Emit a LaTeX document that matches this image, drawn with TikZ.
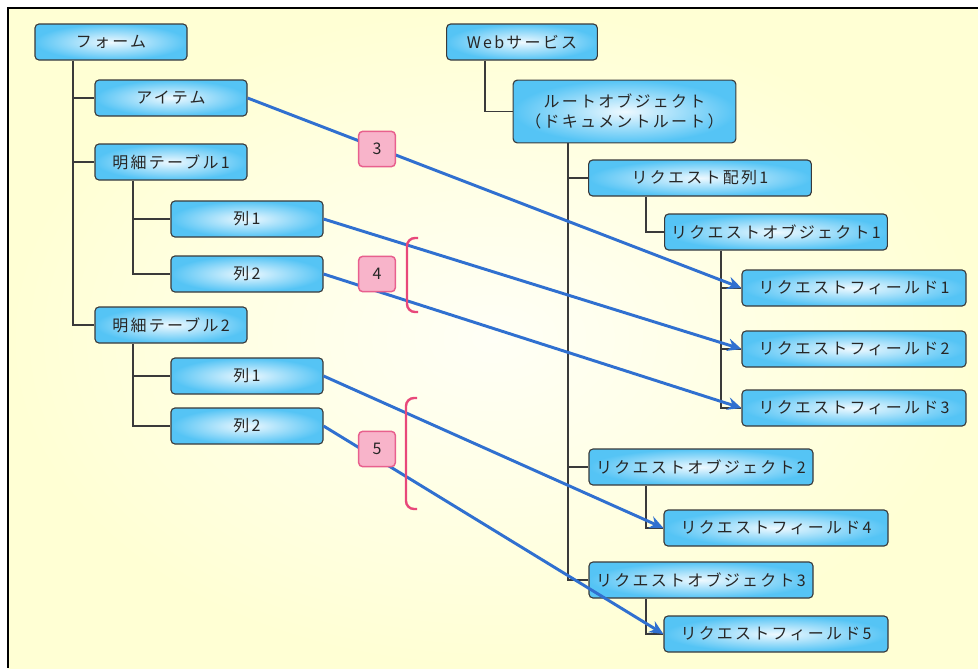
\documentclass[tikz,border=0pt]{standalone}
\usepackage{fontspec}
\setmainfont{Noto Sans CJK JP}[LetterSpace=14]
\usetikzlibrary{arrows.meta}
\definecolor{bgyel}{HTML}{FFFFD4}
\definecolor{bgwhite}{HTML}{FFFFF6}
\definecolor{boxin}{HTML}{EEF9FF}
\definecolor{boxout}{HTML}{55C4F5}
\definecolor{boxline}{HTML}{3A3A3A}
\definecolor{arrblue}{HTML}{3070D0}
\definecolor{labfill}{HTML}{F8B4CA}
\definecolor{labline}{HTML}{E8608E}
\definecolor{brkcol}{HTML}{E8487A}
\definecolor{txt}{HTML}{262626}
\tikzset{
  box/.style={draw=boxline, line width=0.85pt, rounded corners=3pt,
    inner color=boxin, outer color=boxout, minimum height=27pt,
    text=txt, inner sep=1pt, align=center},
  treeline/.style={draw=boxline, line width=0.85pt},
  arr/.style={draw=arrblue, line width=2.2pt, -{Stealth[length=10.5pt,width=9.5pt,inset=3.5pt]}},
  lab/.style={draw=labline, fill=labfill, line width=1.1pt, rounded corners=3pt,
    minimum width=27.5pt, minimum height=26.5pt, inner sep=0pt, text=txt},
  brk/.style={draw=brkcol, line width=1.8pt, rounded corners=6pt}
}
\begin{document}
\begin{tikzpicture}[x=0.75pt,y=-0.75pt,font=\fontsize{12}{15}\selectfont]
\useasboundingbox (0,0) rectangle (978,668);
% background
\fill[white] (0,0) rectangle (978,668);
\shade[inner color=bgwhite, outer color=bgyel] (8,8) rectangle (978,668);
\draw[black, line width=1.5pt] (8,668) -- (8,8) -- (978,8);

% left tree nodes
\node[box, minimum width=114pt] (form) at (111,42) {フォーム};
\node[box, minimum width=114pt] (item) at (171,98) {アイテム};
\node[box, minimum width=114pt] (tab1) at (171,162) {明細テーブル1};
\node[box, minimum width=114pt] (c11) at (247,219) {列1};
\node[box, minimum width=114pt] (c12) at (247,274) {列2};
\node[box, minimum width=114pt] (tab2) at (171,325) {明細テーブル2};
\node[box, minimum width=114pt] (c21) at (247,376) {列1};
\node[box, minimum width=114pt] (c22) at (247,426) {列2};

% right tree nodes
\node[box, minimum width=113pt] (web) at (522,42) {Webサービス};
\node[box, minimum width=167pt, minimum height=47pt] (root) at (624.5,111.5) {ルートオブジェクト\\（ドキュメントルート）};
\node[box, minimum width=167pt] (arr1) at (700,178) {リクエスト配列1};
\node[box, minimum width=167pt] (obj1) at (776,232) {リクエストオブジェクト1};
\node[box, minimum width=168pt] (f1) at (854,288) {リクエストフィールド1};
\node[box, minimum width=168pt] (f2) at (854,349) {リクエストフィールド2};
\node[box, minimum width=168pt] (f3) at (854,408) {リクエストフィールド3};
\node[box, minimum width=168pt] (obj2) at (701,467) {リクエストオブジェクト2};
\node[box, minimum width=168pt] (f4) at (776,528) {リクエストフィールド4};
\node[box, minimum width=168pt] (obj3) at (701,580) {リクエストオブジェクト3};
\node[box, minimum width=168pt] (f5) at (776,634) {リクエストフィールド5};

% trunk coordinates
\coordinate (tA) at (73,0);
\coordinate (tB) at (133,0);
\coordinate (tC) at (485,0);
\coordinate (tD) at (568,0);
\coordinate (tE) at (646,0);
\coordinate (tF) at (721,0);

\draw[treeline] (form.south -| tA) |- (tab2.west);
\draw[treeline] (item.west -| tA) -- (item.west);
\draw[treeline] (tab1.west -| tA) -- (tab1.west);
\draw[treeline] (tab1.south -| tB) |- (c12.west);
\draw[treeline] (c11.west -| tB) -- (c11.west);
\draw[treeline] (tab2.south -| tB) |- (c22.west);
\draw[treeline] (c21.west -| tB) -- (c21.west);
\draw[treeline] (web.south -| tC) |- (root.west);
\draw[treeline] (root.south -| tD) |- (obj3.west);
\draw[treeline] (arr1.west -| tD) -- (arr1.west);
\draw[treeline] (obj2.west -| tD) -- (obj2.west);
\draw[treeline] (arr1.south -| tE) |- (obj1.west);
\draw[treeline] (obj1.south -| tF) |- (f3.west);
\draw[treeline] (f1.west -| tF) -- (f1.west);
\draw[treeline] (f2.west -| tF) -- (f2.west);
\draw[treeline] (obj2.south -| tE) |- (f4.west);
\draw[treeline] (obj3.south -| tE) |- (f5.west);

% mapping arrows
\draw[arr] (item.east) -- (f1.west);
\draw[arr] (c11.east) -- (f2.west);
\draw[arr] (c12.east) -- (f3.west);
\draw[arr] (c21.east) -- (f4.west);
\draw[arr] (c22.east) -- (f5.west);

% labels
\node[lab] (l3) at (377,149) {3};
\node[lab] (l4) at (377,274) {4};
\node[lab] (l5) at (377,449) {5};

% brackets
\draw[brk] (418,238) -- (407,238) -- (407,312) -- (418,312);
\draw[brk] (417,398) -- (406,398) -- (406,509) -- (417,509);
\end{tikzpicture}
\end{document}
